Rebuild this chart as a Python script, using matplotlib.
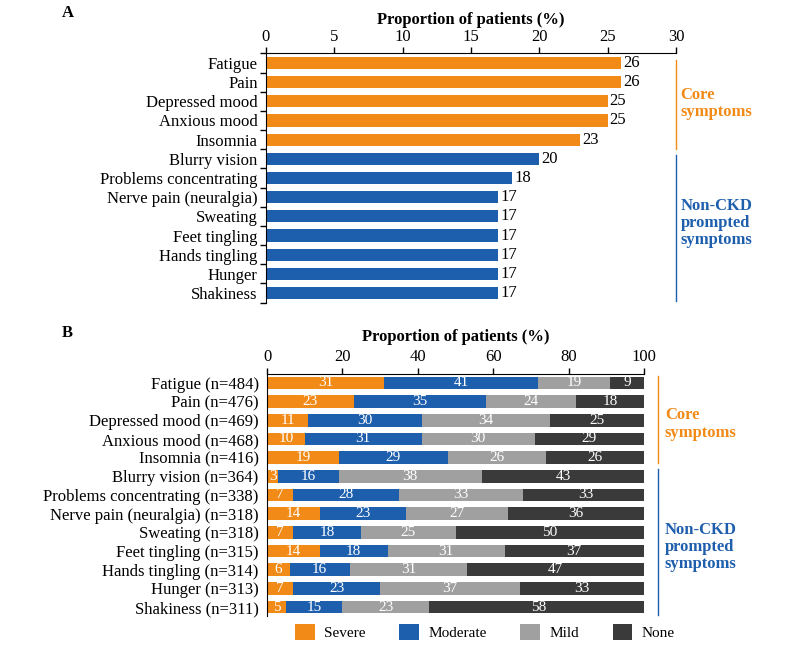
import matplotlib
matplotlib.use("Agg")
import matplotlib.pyplot as plt
import numpy as np
from matplotlib.patches import Patch

plt.rcParams['font.family'] = ['Liberation Serif', 'DejaVu Serif']

# Panel A data
cats_a = ["Fatigue", "Pain", "Depressed mood", "Anxious mood", "Insomnia",
          "Blurry vision", "Problems concentrating", "Nerve pain (neuralgia)",
          "Sweating", "Feet tingling", "Hands tingling", "Hunger", "Shakiness"]
vals_a = [26, 26, 25, 25, 23, 20, 18, 17, 17, 17, 17, 17, 17]
n_core = 5

# Panel B data
cats_b = ["Fatigue (n=484)", "Pain (n=476)", "Depressed mood (n=469)",
          "Anxious mood (n=468)", "Insomnia (n=416)", "Blurry vision (n=364)",
          "Problems concentrating (n=338)", "Nerve pain (neuralgia) (n=318)",
          "Sweating (n=318)", "Feet tingling (n=315)", "Hands tingling (n=314)",
          "Hunger (n=313)", "Shakiness (n=311)"]
severe = [31, 23, 11, 10, 19, 3, 7, 14, 7, 14, 6, 7, 5]
moderate = [41, 35, 30, 31, 29, 16, 28, 23, 18, 18, 16, 23, 15]
mild = [19, 24, 34, 30, 26, 38, 33, 27, 25, 31, 31, 37, 23]
none_ = [9, 18, 25, 29, 26, 43, 33, 36, 50, 37, 47, 33, 58]
series_names = ["Severe", "Moderate", "Mild", "None"]

ORANGE = "#F28A17"
BLUE = "#1E5FAD"
GREY = "#A0A0A0"
DARK = "#3A3A3A"

fig = plt.figure(figsize=(8, 6.45), dpi=100)

# ---------- Panel A ----------
axA = fig.add_axes([0.3325, 1 - 302.6 / 645, (676 - 266) / 800, (302.6 - 53.4) / 645])
y = np.arange(len(cats_a))
colors_a = [ORANGE if i < n_core else BLUE for i in range(len(cats_a))]
axA.barh(y, vals_a, height=0.64, color=colors_a)
for yi, v in zip(y, vals_a):
    axA.text(v + 0.15, yi, str(v), va='center', ha='left', fontsize=12)
axA.set_xlim(0, 30)
axA.set_ylim(len(cats_a) - 0.5, -0.5)
axA.xaxis.tick_top()
axA.xaxis.set_label_position('top')
axA.set_xticks([0, 5, 10, 15, 20, 25, 30])
axA.set_xlabel("Proportion of patients (%)", fontsize=12, fontweight='bold', labelpad=4)
axA.set_yticks(y)
axA.set_yticklabels(cats_a, fontsize=12)
axA.set_yticks(np.arange(-0.5, len(cats_a), 1), minor=True)
axA.tick_params(axis='y', which='major', length=0, pad=6)
axA.tick_params(axis='y', which='minor', length=4, width=1)
axA.tick_params(axis='x', labelsize=12, length=4, width=1, pad=2)
for s in ['right', 'bottom']:
    axA.spines[s].set_visible(False)

trA = axA.get_yaxis_transform()
axA.plot([1.0, 1.0], [-0.15, 4.5], color=ORANGE, lw=1, transform=trA, clip_on=False)
axA.plot([1.0, 1.0], [4.8, 12.4], color=BLUE, lw=1, transform=trA, clip_on=False)
axA.text(1.011, 2.1, "Core\nsymptoms", color=ORANGE, fontsize=12, fontweight='bold',
         transform=trA, va='center', ha='left', linespacing=1.1)
axA.text(1.011, 8.35, "Non-CKD\nprompted\nsymptoms", color=BLUE, fontsize=12, fontweight='bold',
         transform=trA, va='center', ha='left', linespacing=1.1)
fig.text(62 / 800, 1 - 13 / 645, "A", fontsize=12, fontweight='bold', va='center', ha='left')

# ---------- Panel B ----------
axB = fig.add_axes([267 / 800, 1 - 616.4 / 645, (644 - 267) / 800, (616.4 - 373.6) / 645])
yb = np.arange(len(cats_b))
left = np.zeros(len(cats_b))
for vals, col, name in zip([severe, moderate, mild, none_], [ORANGE, BLUE, GREY, DARK], series_names):
    vals = np.array(vals, dtype=float)
    axB.barh(yb, vals, left=left, height=0.68, color=col, label=name)
    for yi, l, v in zip(yb, left, vals):
        axB.text(l + v / 2, yi, str(int(v)), ha='center', va='center', color='white', fontsize=11)
    left += vals
axB.set_xlim(0, 100)
axB.set_ylim(len(cats_b) - 0.5, -0.5)
axB.xaxis.tick_top()
axB.xaxis.set_label_position('top')
axB.set_xticks([0, 20, 40, 60, 80, 100])
axB.set_xlabel("Proportion of patients (%)", fontsize=12, fontweight='bold', labelpad=6)
axB.set_yticks(yb)
axB.set_yticklabels(cats_b, fontsize=12)
axB.tick_params(axis='y', which='major', length=0, pad=6)
axB.tick_params(axis='x', labelsize=12, length=4, width=1, pad=2)
for s in ['right', 'bottom']:
    axB.spines[s].set_visible(False)

trB = axB.get_yaxis_transform()
xb = (658 - 267) / (644 - 267)
axB.plot([xb, xb], [-0.35, 4.3], color=ORANGE, lw=1, transform=trB, clip_on=False)
axB.plot([xb, xb], [4.6, 12.4], color=BLUE, lw=1, transform=trB, clip_on=False)
axB.text(xb + 0.018, 2.2, "Core\nsymptoms", color=ORANGE, fontsize=12, fontweight='bold',
         transform=trB, va='center', ha='left', linespacing=1.1)
axB.text(xb + 0.018, 8.8, "Non-CKD\nprompted\nsymptoms", color=BLUE, fontsize=12, fontweight='bold',
         transform=trB, va='center', ha='left', linespacing=1.1)
fig.text(62 / 800, 1 - 333 / 645, "B", fontsize=12, fontweight='bold', va='center', ha='left')

handles = [Patch(facecolor=c, label=n) for c, n in zip([ORANGE, BLUE, GREY, DARK], series_names)]
fig.legend(handles=handles, loc='center', bbox_to_anchor=(485 / 800, 1 - 632 / 645), ncol=4,
           frameon=False, fontsize=11, handlelength=1.3, handleheight=1.3, columnspacing=2.2,
           handletextpad=0.6)

fig.savefig("out.png", dpi=100)
